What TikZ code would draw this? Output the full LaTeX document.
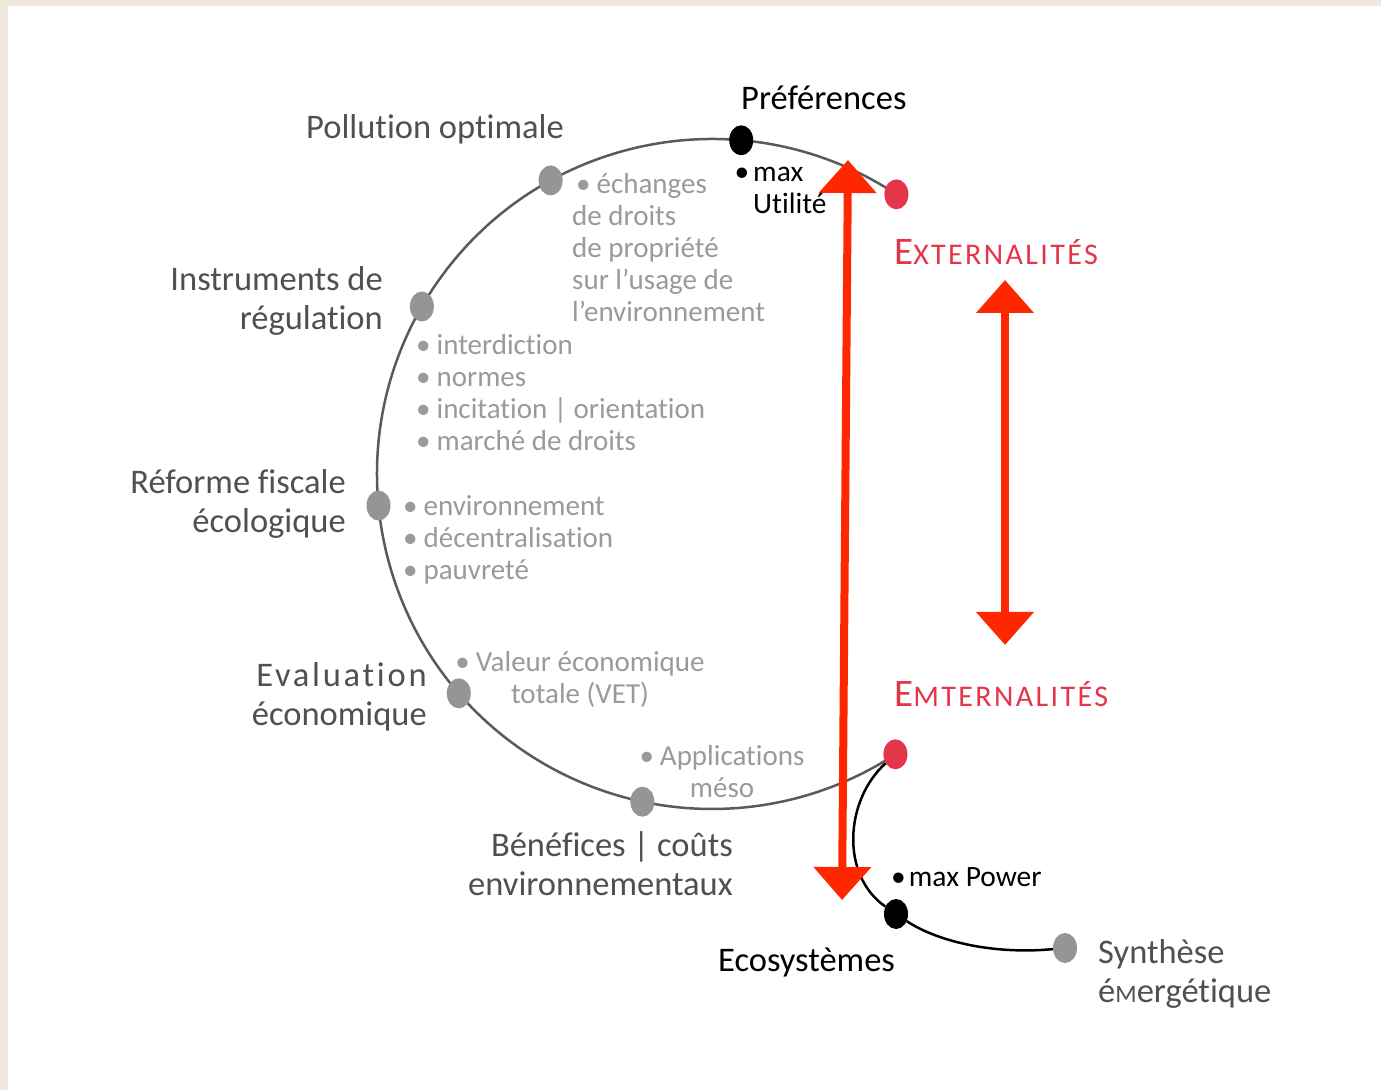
\documentclass[tikz,border=0pt]{standalone}
\usepackage{fontspec}
\setmainfont{Carlito}[Ligatures=NoCommon]
\newfontfamily\spacedfont[LetterSpace=8,Ligatures=NoCommon]{Carlito}
\usetikzlibrary{shapes.geometric,arrows.meta}

\definecolor{beige}{HTML}{EEE7DC}
\definecolor{labgray}{HTML}{505050}
\definecolor{subgray}{HTML}{9A9A9A}
\definecolor{ringgray}{HTML}{5A5A5A}
\definecolor{dotgray}{HTML}{959595}
\definecolor{extred}{HTML}{E4364A}
\definecolor{arrowred}{HTML}{FF2700}

\newcommand{\bul}{\textbullet\hspace{6pt}}

\tikzset{
  dot/.style={ellipse,minimum width=24pt,minimum height=30pt,inner sep=0pt},
  lab/.style={text=labgray,inner sep=0pt,font=\fontsize{34.5}{39}\selectfont},
  sub/.style={text=subgray,inner sep=0pt,font=\fontsize{29}{32}\selectfont},
  blk/.style={text=black,inner sep=0pt,font=\fontsize{29.5}{32}\selectfont},
  redcaps/.style={text=extred,inner sep=0pt,font=\spacedfont},
  bigarrow/.style={arrowred,line width=8pt,{Triangle[width=56pt,length=33pt]}-{Triangle[width=56pt,length=33pt]}}
}

\begin{document}
\begin{tikzpicture}[x=1pt,y=1pt]
        \fill[beige](0,0)rectangle(1381,1090);
        \fill[white](8,0)rectangle(1381,1084);
        \useasboundingbox(0,0)rectangle(1381,1090);

        % the ring and its stops
        \coordinate(c)at(712,616);
        \draw[ringgray,line width=2.5pt](c)++(56.6:335)arc[start angle=56.6,end angle=303.2,radius=335];
        \path(c)++(56.6:335)node[dot,fill=extred](ext){};
        \path(c)++(-56.8:335)node[dot,fill=extred](emt){};
        \path(c)++(85:335)node[dot,fill=black](pref){};
        \path(c)++(118.8:335)node[dot,fill=dotgray](pol){};
        \path(c)++(150:335)node[dot,fill=dotgray](inst){};
        \path(c)++(185.4:335)node[dot,fill=dotgray](ref){};
        \path(c)++(220.9:335)node[dot,fill=dotgray](eval){};
        \path(c)++(258:335)node[dot,fill=dotgray](bc){};

        % ecosystem branch
        \node[dot,fill=black](eco)at(896,176){};
        \node[dot,fill=dotgray](syn)at(1065,142){};
        \draw[black,line width=2.5pt](emt).. controls (845,290) and (840,215) ..(eco);
        \draw[black,line width=2.5pt](eco).. controls (935,150) and (990,135) ..(syn);

        % labels (multi-line ones sit on their last line)
        \node[blk,font=\fontsize{34.5}{39}\selectfont,anchor=base west](preflab)at(741,980){Préférences};
        \node[blk,anchor=base west,align=left](maxu)at(753,876){\llap{\textbullet\hspace{4pt}}max\\Utilité};
        \node[lab,anchor=base west](pollab)at(306,951){Pollution optimale};
        \node[sub,anchor=base west,align=left](polsub)at(572,768){\hspace{4pt}\bul échanges\\de droits\\de propriété\\sur l’usage de\\l’environnement};
        \node[redcaps,anchor=base west](extlab)at(894,825){\fontsize{39}{39}\selectfont E\fontsize{30}{30}\selectfont XTERNALITÉS};
        \node[redcaps,anchor=base west](emtlab)at(894,383){\fontsize{39}{39}\selectfont E\fontsize{30}{30}\selectfont MTERNALITÉS};
        \node[lab,anchor=base east,align=right](instlab)at(383,760){Instruments de\\régulation};
        \node[sub,anchor=base west,align=left](instsub)at(416,639){\bul interdiction\\\bul normes\\\bul incitation | orientation\\\bul marché de droits};
        \node[lab,anchor=base east,align=right](reflab)at(346,557){Réforme fiscale\\écologique};
        \node[sub,anchor=base west,align=left](refsub)at(403,510){\bul environnement\\\bul décentralisation\\\bul pauvreté};
        \node[lab,anchor=base east,align=right](evallab)at(427,364){{\spacedfont Evaluation}\\économique};
        \node[sub,anchor=base,align=center](evalsub)at(580,386){\bul Valeur économique\\totale (VET)};
        \node[sub,anchor=base,align=center](bcsub)at(722,292){\bul Applications\\méso};
        \node[lab,anchor=base east,align=right](bclab)at(733,194){Bénéfices | coûts\\environnementaux};
        \node[blk,anchor=base west](maxp)at(891,204){\textbullet\hspace{3pt}max Power};
        \node[blk,font=\fontsize{34.5}{39}\selectfont,anchor=base west](ecolab)at(718,119){Ecosystèmes};
        \node[lab,anchor=base west,align=left](synlab)at(1098,88){Synthèse\\é{\fontsize{25}{25}\selectfont M}ergétique};

        % red arrows
        \coordinate(lt)at(848,930);
        \coordinate(lb)at(842,190);
        \coordinate(rt)at(1005,810);
        \coordinate(rb)at(1005,445);
        \draw[bigarrow](lt)--(lb);
        \draw[bigarrow](rt)--(rb);
\end{tikzpicture}
\end{document}
